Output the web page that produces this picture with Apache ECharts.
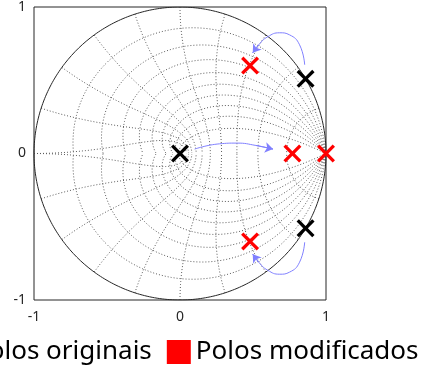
<!DOCTYPE html>
<html>
<head>
<meta charset="utf-8">
<script src="https://cdn.jsdelivr.net/npm/echarts@6/dist/echarts.min.js"></script>
<style>
html,body{margin:0;padding:0;background:#fff;}
#c{width:422px;height:371px;}
</style>
</head>
<body>
<div id="c"></div>
<script>
// ---- data ----
const axisTicks = [-1, 0, 1];
const originalPoles = [[0, 0], [0.86, 0.51], [0.86, -0.51]];
const modifiedPoles = [[0.48, 0.60], [0.48, -0.60], [0.77, 0], [1.0, 0]];
const arrowMid = [[0.10, 0.030], [0.27, 0.066], [0.39, 0.071], [0.52, 0.055], [0.637, 0.030]];
const arrowUp = [[0.854, 0.605], [0.819, 0.742], [0.75, 0.81], [0.683, 0.824], [0.601, 0.797], [0.539, 0.742], [0.498, 0.687]];
const arrowDown = [[0.854, -0.605], [0.819, -0.742], [0.75, -0.81], [0.683, -0.824], [0.601, -0.797], [0.539, -0.742], [0.498, -0.687]];
// zgrid parameters
const zetaValues = [0.1, 0.2, 0.3, 0.4, 0.5, 0.6, 0.7, 0.8, 0.9];
const wnFractions = [0.1, 0.2, 0.3, 0.4, 0.5, 0.6, 0.7, 0.8, 0.9, 1.0]; // times pi
const seriesNames = ['Polos originais', 'Polos modificados'];

// ---- build ----
const N = 90;
const gridStyle = {color: '#5a5a5a', width: 1, type: [1, 2]};
const series = [];
function curveSeries(pts, style) {
  return {type: 'line', data: pts, showSymbol: false, symbol: 'none', silent: true,
          lineStyle: style, z: 1, animation: false, clip: true};
}
zetaValues.forEach(z => {
  const m = z / Math.sqrt(1 - z * z);
  const up = [], dn = [];
  for (let i = 0; i <= N; i++) {
    const t = Math.PI * i / N;
    const r = Math.exp(-m * t);
    up.push([r * Math.cos(t), r * Math.sin(t)]);
    dn.push([r * Math.cos(t), -r * Math.sin(t)]);
  }
  series.push(curveSeries(up, gridStyle), curveSeries(dn, gridStyle));
});
wnFractions.forEach(f => {
  const wn = f * Math.PI;
  const up = [], dn = [];
  for (let i = 0; i <= N; i++) {
    const p = Math.PI / 2 + (Math.PI / 2) * i / N;
    const r = Math.exp(wn * Math.cos(p));
    const a = wn * Math.sin(p);
    up.push([r * Math.cos(a), r * Math.sin(a)]);
    dn.push([r * Math.cos(a), -r * Math.sin(a)]);
  }
  series.push(curveSeries(up, gridStyle), curveSeries(dn, gridStyle));
});
// unit circle
const circ = [];
for (let i = 0; i <= 360; i++) {
  const t = 2 * Math.PI * i / 360;
  circ.push([Math.cos(t), Math.sin(t)]);
}
series.push(curveSeries(circ, {color: '#262626', width: 1, type: 'solid'}));

// arrows
const arrowColor = '#8080ff';
[arrowMid, arrowUp, arrowDown].forEach(a => {
  series.push({type: 'line', data: a, smooth: true, showSymbol: false, symbol: 'none', silent: true,
               lineStyle: {color: arrowColor, width: 1}, z: 3, animation: false});
  series.push({type: 'lines', coordinateSystem: 'cartesian2d', silent: true, z: 3, animation: false,
               symbol: ['none', 'arrow'], symbolSize: 8,
               lineStyle: {color: arrowColor, width: 1, opacity: 1},
               data: [{coords: [a[a.length - 2], a[a.length - 1]]}]});
});

const xPath = 'path://M0,1.3 L1.3,0 L5,3.7 L8.7,0 L10,1.3 L6.3,5 L10,8.7 L8.7,10 L5,6.3 L1.3,10 L0,8.7 L3.7,5 Z';
series.push({name: seriesNames[0], type: 'scatter', data: originalPoles, symbol: xPath, symbolSize: 18,
             itemStyle: {color: '#000000', opacity: 1}, z: 5, animation: false});
series.push({name: seriesNames[1], type: 'scatter', data: modifiedPoles, symbol: xPath, symbolSize: 18,
             itemStyle: {color: '#ff0000', opacity: 1}, z: 5, animation: false});

const chart = echarts.init(document.getElementById('c'), null, {renderer: 'canvas'});
const labelStyle = {color: '#262626', fontSize: 14, fontFamily: 'Noto Sans'};
chart.setOption({
  animation: false,
  grid: {left: 34, top: 7, width: 292, height: 293, show: true, borderColor: '#262626', borderWidth: 1, backgroundColor: 'transparent'},
  xAxis: {type: 'value', min: -1, max: 1, interval: 1,
          axisLine: {show: false}, axisTick: {show: false}, splitLine: {show: false},
          axisLabel: Object.assign({margin: 10, formatter: v => axisTicks.includes(v) ? String(v) : ''}, labelStyle)},
  yAxis: {type: 'value', min: -1, max: 1, interval: 1,
          axisLine: {show: false}, axisTick: {show: false}, splitLine: {show: false},
          axisLabel: Object.assign({margin: 8, formatter: v => axisTicks.includes(v) ? String(v) : ''}, labelStyle)},
  legend: {data: seriesNames, left: -56, top: 339, width: 600, orient: 'horizontal', icon: 'rect', itemWidth: 24, itemHeight: 24, itemGap: 15,
           padding: 0, itemStyle: {opacity: 1},
           textStyle: {fontSize: 26, fontFamily: 'Noto Sans', color: '#000'}, selectedMode: false},
  series: series
});
</script>
</body>
</html>
